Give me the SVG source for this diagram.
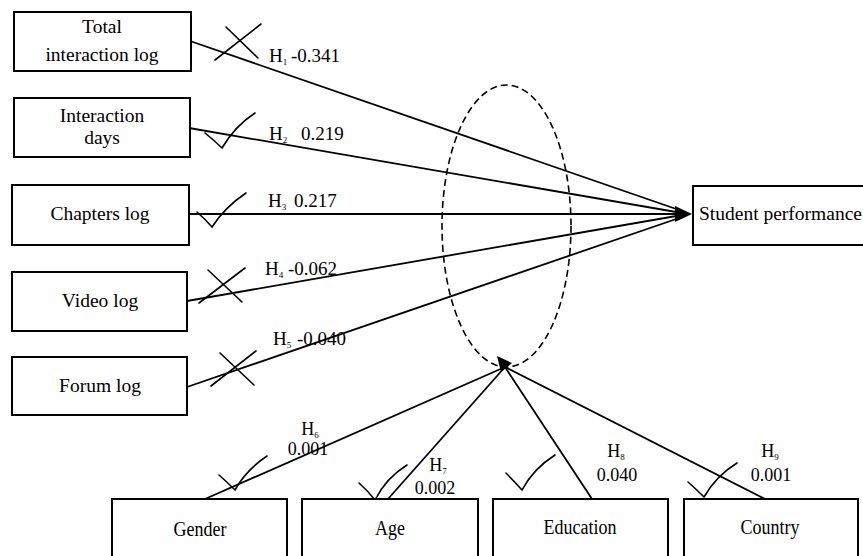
<svg xmlns="http://www.w3.org/2000/svg" width="863" height="556" viewBox="0 0 863 556" font-family="'Liberation Serif', 'Times New Roman', 'DejaVu Serif', serif">
<style>
.box{fill:#fff;stroke:#000;stroke-width:2}
.t{font-family:'Liberation Serif','Times New Roman','DejaVu Serif',serif;font-size:19.5px;fill:#000}
.lab{font-family:'Liberation Serif','Times New Roman','DejaVu Serif',serif;font-size:19px;fill:#000}
.bt{font-family:'Liberation Serif','Times New Roman','DejaVu Serif',serif;font-size:18px;fill:#000;text-anchor:middle}
.sub{font-size:9px}
.ln{fill:none;stroke:#000;stroke-width:1.8}
.mk{fill:none;stroke:#000;stroke-width:1.6;stroke-linecap:round}
.ell{fill:none;stroke:#000;stroke-width:1.6;stroke-dasharray:7 4}
</style>
<rect width="863" height="556" fill="#fff"/>

<g id="moderator">
<ellipse class="ell" cx="506.5" cy="226" rx="64.5" ry="141"/>
</g>

<g id="connectors">
<line class="ln" x1="190" y1="41" x2="682" y2="211"/>
<line class="ln" x1="189" y1="128" x2="682" y2="213"/>
<line class="ln" x1="189" y1="214" x2="680" y2="214"/>
<line class="ln" x1="187" y1="301" x2="682" y2="215"/>
<line class="ln" x1="187" y1="387" x2="682" y2="217"/>
<polygon points="692,214 675,206 675,222" fill="#000"/>
<line class="ln" x1="205" y1="499" x2="505" y2="367"/>
<line class="ln" x1="388" y1="499" x2="505" y2="367"/>
<line class="ln" x1="592" y1="499" x2="505" y2="367"/>
<line class="ln" x1="765" y1="499" x2="505" y2="367"/>
<polygon points="497,356 512,363 501,372" fill="#000"/>
</g>

<g id="marks">
<line class="mk" x1="215" y1="60" x2="261" y2="24"/>
<line class="mk" x1="226" y1="27" x2="258" y2="58"/>
<path class="mk" d="M205,133 Q215,141 222,148 Q235,126 255,113"/>
<path class="mk" d="M197,212 Q205,219 212,227 Q225,207 246,193"/>
<line class="mk" x1="208" y1="270" x2="242" y2="302"/>
<line class="mk" x1="199" y1="303" x2="245" y2="268"/>
<line class="mk" x1="220" y1="353" x2="254" y2="385"/>
<line class="mk" x1="211" y1="386" x2="256" y2="351"/>
<path class="mk" d="M219,475 Q227,482 235,490 Q246,470 267,456"/>
<path class="mk" d="M359,483 Q368,491 375,500 Q386,478 407,465"/>
<path class="mk" d="M506,473 Q514,481 522,490 Q533,469 555,455"/>
<path class="mk" d="M688,482 Q696,489 704,497 Q716,476 737,463"/>
</g>

<g id="labels">
<text class="lab" x="269" y="62">H<tspan class="sub" dy="3">1</tspan><tspan dy="-3" x="291">-0.341</tspan></text>
<text class="lab" x="269" y="140">H<tspan class="sub" dy="3">2</tspan><tspan dy="-3" x="301">0.219</tspan></text>
<text class="lab" x="268" y="207">H<tspan class="sub" dy="3">3</tspan><tspan dy="-3" x="294">0.217</tspan></text>
<text class="lab" x="265" y="275">H<tspan class="sub" dy="3">4</tspan><tspan dy="-3" x="288">-0.062</tspan></text>
<text class="lab" x="273" y="345">H<tspan class="sub" dy="3">5</tspan><tspan dy="-3" x="297">-0.040</tspan></text>
<text class="bt" x="310" y="435">H<tspan class="sub" dy="3">6</tspan></text>
<text class="bt" x="308" y="455">0.001</text>
<text class="bt" x="438" y="471">H<tspan class="sub" dy="3">7</tspan></text>
<text class="bt" x="435" y="494">0.002</text>
<text class="bt" x="616" y="457">H<tspan class="sub" dy="3">8</tspan></text>
<text class="bt" x="617" y="481">0.040</text>
<text class="bt" x="770" y="457">H<tspan class="sub" dy="3">9</tspan></text>
<text class="bt" x="771" y="481">0.001</text>
</g>

<g id="total-interaction-log">
<rect class="box" x="14" y="12" width="177" height="59"/>
<text class="t" x="102" y="33" text-anchor="middle">Total</text>
<text class="t" x="102" y="61" text-anchor="middle">interaction log</text>
</g>
<g id="interaction-days">
<rect class="box" x="14" y="98" width="176" height="59"/>
<text class="t" x="102" y="122" text-anchor="middle">Interaction</text>
<text class="t" x="102" y="144" text-anchor="middle">days</text>
</g>
<g id="chapters-log">
<rect class="box" x="12" y="185" width="177" height="60"/>
<text class="t" x="100" y="220" text-anchor="middle">Chapters log</text>
</g>
<g id="video-log">
<rect class="box" x="12" y="272" width="175" height="59"/>
<text class="t" x="100" y="307" text-anchor="middle">Video log</text>
</g>
<g id="forum-log">
<rect class="box" x="12" y="357" width="175" height="58"/>
<text class="t" x="100" y="392" text-anchor="middle">Forum log</text>
</g>
<g id="student-performance">
<rect class="box" x="693" y="186" width="185" height="59"/>
<text class="t" x="699" y="220">Student performance</text>
</g>

<g id="gender">
<rect class="box" x="112" y="499" width="175" height="80"/>
<text class="bt" transform="translate(200,536) scale(1,1.2)">Gender</text>
</g>
<g id="age">
<rect class="box" x="302" y="499" width="176" height="80"/>
<text class="bt" transform="translate(390,535) scale(1,1.2)">Age</text>
</g>
<g id="education">
<rect class="box" x="493" y="499" width="175" height="80"/>
<text class="bt" transform="translate(580,534) scale(1,1.2)">Education</text>
</g>
<g id="country">
<rect class="box" x="684" y="499" width="174" height="80"/>
<text class="bt" transform="translate(770,534) scale(1,1.2)">Country</text>
</g>
</svg>
